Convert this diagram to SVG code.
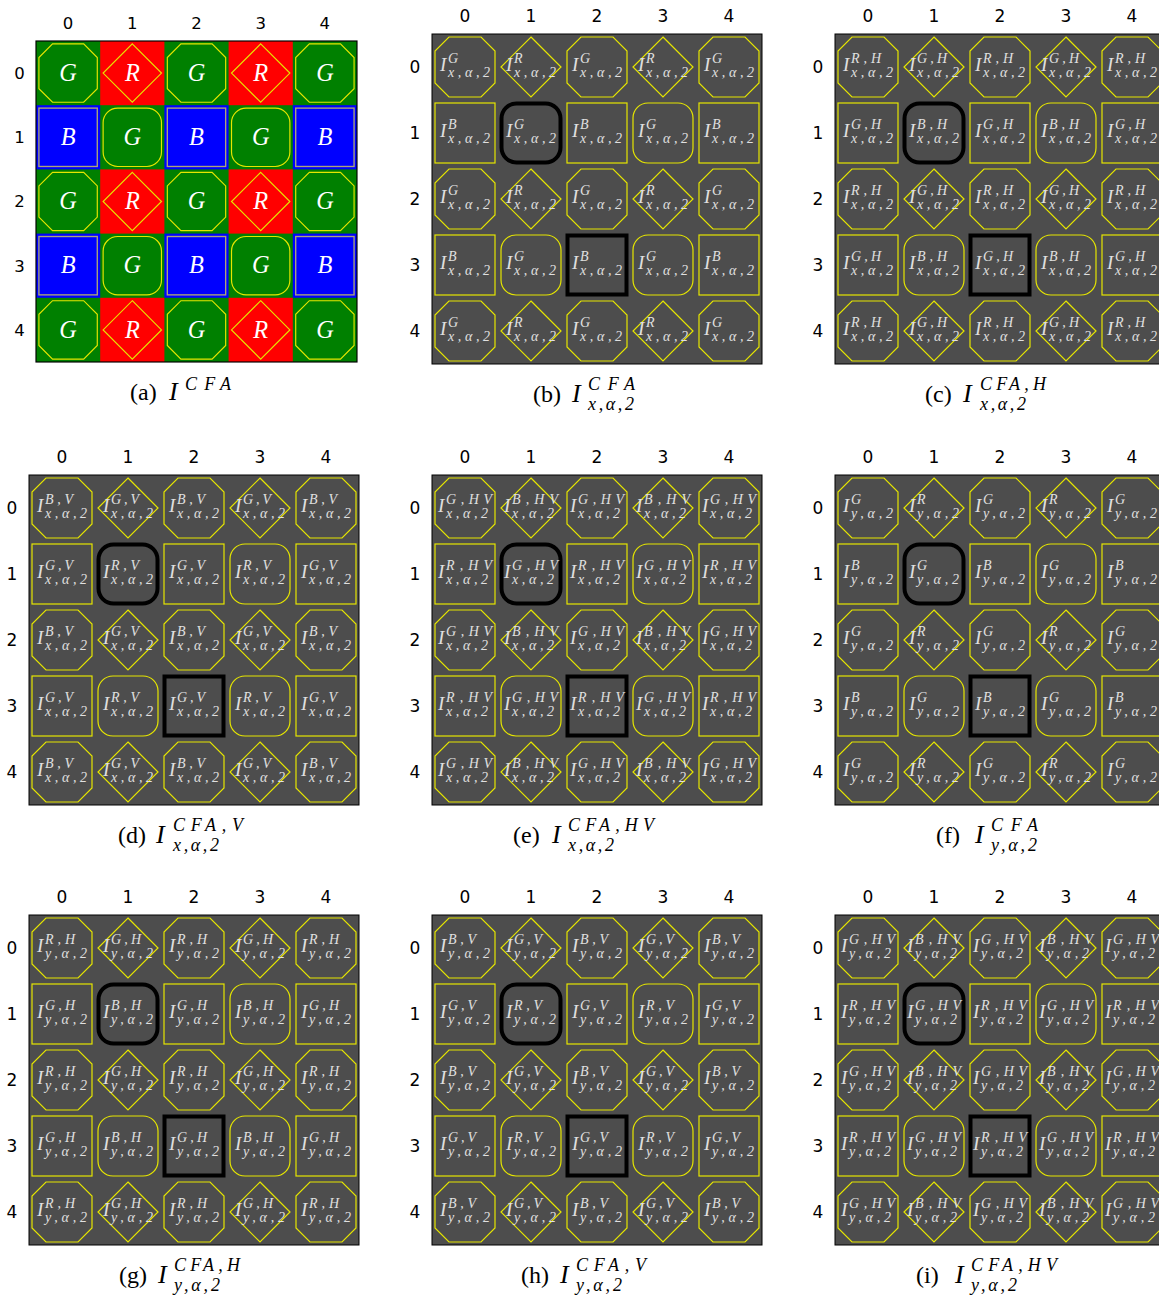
<svg xmlns="http://www.w3.org/2000/svg" xmlns:xlink="http://www.w3.org/1999/xlink" width="1159" height="1301" viewBox="0 0 1159 1301">
<style>
.hd{font:17px "DejaVu Sans",sans-serif;fill:#000;text-anchor:middle}
.m{font:italic 19px "Liberation Serif",serif;fill:#e0e0e0}
.s{font:italic 14px "Liberation Serif",serif;fill:#e0e0e0}
.w{font:italic 25px "Liberation Serif",serif;fill:#fff;text-anchor:middle}
.c{font:24px "Liberation Serif",serif;fill:#000}
.ci{font:italic 26px "Liberation Serif",serif;fill:#000}
.cs{font:italic 18px "Liberation Serif",serif;fill:#000}
</style>
<defs>
<polygon id="o" points="-16,-30 16,-30 30,-16 30,16 16,30 -16,30 -30,16 -30,-16" fill="none" stroke="#e6e600" stroke-width="1.2"/>
<polygon id="d" points="0,-30 30,0 0,30 -30,0" fill="none" stroke="#e6e600" stroke-width="1.2"/>
<rect id="q" x="-30" y="-30" width="60" height="60" fill="none" stroke="#e6e600" stroke-width="1.2"/>
<rect id="r" x="-30" y="-30" width="60" height="60" rx="15" fill="none" stroke="#e6e600" stroke-width="1.2"/>
<rect id="qa" x="-30" y="-30" width="60" height="60" fill="none" stroke="#aaa57a" stroke-width="1.4"/>
<rect id="rk" x="-29.5" y="-29.5" width="59" height="59" rx="15" fill="none" stroke="#000" stroke-width="4"/>
<rect id="qk" x="-29.5" y="-29.5" width="59" height="59" fill="none" stroke="#000" stroke-width="4"/>
</defs>

<!-- Panel a -->
<g id="panel-a" transform="translate(36,41) scale(0.9727)">
<rect width="330" height="330" fill="#008000"/>
<g class="hd">
<text x="33" y="-12">0</text><text x="99" y="-12">1</text><text x="165" y="-12">2</text><text x="231" y="-12">3</text><text x="297" y="-12">4</text>
<text x="-17" y="39">0</text><text x="-17" y="105">1</text><text x="-17" y="171">2</text><text x="-17" y="237">3</text><text x="-17" y="303">4</text>
</g>
<g id="a00" transform="translate(33,33)"><use href="#o"/><text class="w" y="8">G</text></g>
<g id="a01" transform="translate(99,33)"><rect x="-33" y="-33" width="66" height="66" fill="#f00"/><use href="#d"/><text class="w" y="8">R</text></g>
<g id="a02" transform="translate(165,33)"><use href="#o"/><text class="w" y="8">G</text></g>
<g id="a03" transform="translate(231,33)"><rect x="-33" y="-33" width="66" height="66" fill="#f00"/><use href="#d"/><text class="w" y="8">R</text></g>
<g id="a04" transform="translate(297,33)"><use href="#o"/><text class="w" y="8">G</text></g>
<g id="a10" transform="translate(33,99)"><rect x="-33" y="-33" width="66" height="66" fill="#00f"/><use href="#qa"/><text class="w" y="8">B</text></g>
<g id="a11" transform="translate(99,99)"><use href="#r"/><text class="w" y="8">G</text></g>
<g id="a12" transform="translate(165,99)"><rect x="-33" y="-33" width="66" height="66" fill="#00f"/><use href="#qa"/><text class="w" y="8">B</text></g>
<g id="a13" transform="translate(231,99)"><use href="#r"/><text class="w" y="8">G</text></g>
<g id="a14" transform="translate(297,99)"><rect x="-33" y="-33" width="66" height="66" fill="#00f"/><use href="#qa"/><text class="w" y="8">B</text></g>
<g id="a20" transform="translate(33,165)"><use href="#o"/><text class="w" y="8">G</text></g>
<g id="a21" transform="translate(99,165)"><rect x="-33" y="-33" width="66" height="66" fill="#f00"/><use href="#d"/><text class="w" y="8">R</text></g>
<g id="a22" transform="translate(165,165)"><use href="#o"/><text class="w" y="8">G</text></g>
<g id="a23" transform="translate(231,165)"><rect x="-33" y="-33" width="66" height="66" fill="#f00"/><use href="#d"/><text class="w" y="8">R</text></g>
<g id="a24" transform="translate(297,165)"><use href="#o"/><text class="w" y="8">G</text></g>
<g id="a30" transform="translate(33,231)"><rect x="-33" y="-33" width="66" height="66" fill="#00f"/><use href="#qa"/><text class="w" y="8">B</text></g>
<g id="a31" transform="translate(99,231)"><use href="#r"/><text class="w" y="8">G</text></g>
<g id="a32" transform="translate(165,231)"><rect x="-33" y="-33" width="66" height="66" fill="#00f"/><use href="#qa"/><text class="w" y="8">B</text></g>
<g id="a33" transform="translate(231,231)"><use href="#r"/><text class="w" y="8">G</text></g>
<g id="a34" transform="translate(297,231)"><rect x="-33" y="-33" width="66" height="66" fill="#00f"/><use href="#qa"/><text class="w" y="8">B</text></g>
<g id="a40" transform="translate(33,297)"><use href="#o"/><text class="w" y="8">G</text></g>
<g id="a41" transform="translate(99,297)"><rect x="-33" y="-33" width="66" height="66" fill="#f00"/><use href="#d"/><text class="w" y="8">R</text></g>
<g id="a42" transform="translate(165,297)"><use href="#o"/><text class="w" y="8">G</text></g>
<g id="a43" transform="translate(231,297)"><rect x="-33" y="-33" width="66" height="66" fill="#f00"/><use href="#d"/><text class="w" y="8">R</text></g>
<g id="a44" transform="translate(297,297)"><use href="#o"/><text class="w" y="8">G</text></g>
<rect width="330" height="330" fill="none" stroke="#000" stroke-width="1.2"/>
</g>
<g id="cap-a"><text class="c" x="130" y="400">(a)</text><text class="ci" x="169" y="400">I</text><text class="cs" x="185" y="390" textLength="46">CFA</text></g>

<!-- Panel b -->
<g id="panel-b" transform="translate(432,34)">
<rect width="330" height="330" fill="#4d4d4d" stroke="#000"/>
<g class="hd">
<text x="33" y="-12.5">0</text><text x="99" y="-12.5">1</text><text x="165" y="-12.5">2</text><text x="231" y="-12.5">3</text><text x="297" y="-12.5">4</text>
<text x="-17" y="39">0</text><text x="-17" y="105">1</text><text x="-17" y="171">2</text><text x="-17" y="237">3</text><text x="-17" y="303">4</text>
</g>
<g id="b00" transform="translate(33,33)"><use href="#o"/><text class="m" x="-25" y="4">I</text><text class="s" x="-17" y="-4">G</text><text class="s" x="-17" y="9.5" textLength="42">x,α,2</text></g>
<g id="b01" transform="translate(99,33)"><use href="#d"/><text class="m" x="-25" y="4">I</text><text class="s" x="-17" y="-4">R</text><text class="s" x="-17" y="9.5" textLength="42">x,α,2</text></g>
<g id="b02" transform="translate(165,33)"><use href="#o"/><text class="m" x="-25" y="4">I</text><text class="s" x="-17" y="-4">G</text><text class="s" x="-17" y="9.5" textLength="42">x,α,2</text></g>
<g id="b03" transform="translate(231,33)"><use href="#d"/><text class="m" x="-25" y="4">I</text><text class="s" x="-17" y="-4">R</text><text class="s" x="-17" y="9.5" textLength="42">x,α,2</text></g>
<g id="b04" transform="translate(297,33)"><use href="#o"/><text class="m" x="-25" y="4">I</text><text class="s" x="-17" y="-4">G</text><text class="s" x="-17" y="9.5" textLength="42">x,α,2</text></g>
<g id="b10" transform="translate(33,99)"><use href="#q"/><text class="m" x="-25" y="4">I</text><text class="s" x="-17" y="-4">B</text><text class="s" x="-17" y="9.5" textLength="42">x,α,2</text></g>
<g id="b11" transform="translate(99,99)"><use href="#rk"/><text class="m" x="-25" y="4">I</text><text class="s" x="-17" y="-4">G</text><text class="s" x="-17" y="9.5" textLength="42">x,α,2</text></g>
<g id="b12" transform="translate(165,99)"><use href="#q"/><text class="m" x="-25" y="4">I</text><text class="s" x="-17" y="-4">B</text><text class="s" x="-17" y="9.5" textLength="42">x,α,2</text></g>
<g id="b13" transform="translate(231,99)"><use href="#r"/><text class="m" x="-25" y="4">I</text><text class="s" x="-17" y="-4">G</text><text class="s" x="-17" y="9.5" textLength="42">x,α,2</text></g>
<g id="b14" transform="translate(297,99)"><use href="#q"/><text class="m" x="-25" y="4">I</text><text class="s" x="-17" y="-4">B</text><text class="s" x="-17" y="9.5" textLength="42">x,α,2</text></g>
<g id="b20" transform="translate(33,165)"><use href="#o"/><text class="m" x="-25" y="4">I</text><text class="s" x="-17" y="-4">G</text><text class="s" x="-17" y="9.5" textLength="42">x,α,2</text></g>
<g id="b21" transform="translate(99,165)"><use href="#d"/><text class="m" x="-25" y="4">I</text><text class="s" x="-17" y="-4">R</text><text class="s" x="-17" y="9.5" textLength="42">x,α,2</text></g>
<g id="b22" transform="translate(165,165)"><use href="#o"/><text class="m" x="-25" y="4">I</text><text class="s" x="-17" y="-4">G</text><text class="s" x="-17" y="9.5" textLength="42">x,α,2</text></g>
<g id="b23" transform="translate(231,165)"><use href="#d"/><text class="m" x="-25" y="4">I</text><text class="s" x="-17" y="-4">R</text><text class="s" x="-17" y="9.5" textLength="42">x,α,2</text></g>
<g id="b24" transform="translate(297,165)"><use href="#o"/><text class="m" x="-25" y="4">I</text><text class="s" x="-17" y="-4">G</text><text class="s" x="-17" y="9.5" textLength="42">x,α,2</text></g>
<g id="b30" transform="translate(33,231)"><use href="#q"/><text class="m" x="-25" y="4">I</text><text class="s" x="-17" y="-4">B</text><text class="s" x="-17" y="9.5" textLength="42">x,α,2</text></g>
<g id="b31" transform="translate(99,231)"><use href="#r"/><text class="m" x="-25" y="4">I</text><text class="s" x="-17" y="-4">G</text><text class="s" x="-17" y="9.5" textLength="42">x,α,2</text></g>
<g id="b32" transform="translate(165,231)"><use href="#qk"/><text class="m" x="-25" y="4">I</text><text class="s" x="-17" y="-4">B</text><text class="s" x="-17" y="9.5" textLength="42">x,α,2</text></g>
<g id="b33" transform="translate(231,231)"><use href="#r"/><text class="m" x="-25" y="4">I</text><text class="s" x="-17" y="-4">G</text><text class="s" x="-17" y="9.5" textLength="42">x,α,2</text></g>
<g id="b34" transform="translate(297,231)"><use href="#q"/><text class="m" x="-25" y="4">I</text><text class="s" x="-17" y="-4">B</text><text class="s" x="-17" y="9.5" textLength="42">x,α,2</text></g>
<g id="b40" transform="translate(33,297)"><use href="#o"/><text class="m" x="-25" y="4">I</text><text class="s" x="-17" y="-4">G</text><text class="s" x="-17" y="9.5" textLength="42">x,α,2</text></g>
<g id="b41" transform="translate(99,297)"><use href="#d"/><text class="m" x="-25" y="4">I</text><text class="s" x="-17" y="-4">R</text><text class="s" x="-17" y="9.5" textLength="42">x,α,2</text></g>
<g id="b42" transform="translate(165,297)"><use href="#o"/><text class="m" x="-25" y="4">I</text><text class="s" x="-17" y="-4">G</text><text class="s" x="-17" y="9.5" textLength="42">x,α,2</text></g>
<g id="b43" transform="translate(231,297)"><use href="#d"/><text class="m" x="-25" y="4">I</text><text class="s" x="-17" y="-4">R</text><text class="s" x="-17" y="9.5" textLength="42">x,α,2</text></g>
<g id="b44" transform="translate(297,297)"><use href="#o"/><text class="m" x="-25" y="4">I</text><text class="s" x="-17" y="-4">G</text><text class="s" x="-17" y="9.5" textLength="42">x,α,2</text></g>
</g>
<g id="cap-b"><text class="c" x="533" y="402">(b)</text><text class="ci" x="572" y="402">I</text><text class="cs" x="588" y="389.5" textLength="47">CFA</text><text class="cs" x="588" y="410" textLength="46">x,α,2</text></g>

<!-- Panel c -->
<g id="panel-c" transform="translate(835,34)">
<rect width="330" height="330" fill="#4d4d4d" stroke="#000"/>
<g class="hd">
<text x="33" y="-12.5">0</text><text x="99" y="-12.5">1</text><text x="165" y="-12.5">2</text><text x="231" y="-12.5">3</text><text x="297" y="-12.5">4</text>
<text x="-17" y="39">0</text><text x="-17" y="105">1</text><text x="-17" y="171">2</text><text x="-17" y="237">3</text><text x="-17" y="303">4</text>
</g>
<g id="c00" transform="translate(33,33)"><use href="#o"/><text class="m" x="-25" y="4">I</text><text class="s" x="-17" y="-4" textLength="30">R,H</text><text class="s" x="-17" y="9.5" textLength="42">x,α,2</text></g>
<g id="c01" transform="translate(99,33)"><use href="#d"/><text class="m" x="-25" y="4">I</text><text class="s" x="-17" y="-4" textLength="30">G,H</text><text class="s" x="-17" y="9.5" textLength="42">x,α,2</text></g>
<g id="c02" transform="translate(165,33)"><use href="#o"/><text class="m" x="-25" y="4">I</text><text class="s" x="-17" y="-4" textLength="30">R,H</text><text class="s" x="-17" y="9.5" textLength="42">x,α,2</text></g>
<g id="c03" transform="translate(231,33)"><use href="#d"/><text class="m" x="-25" y="4">I</text><text class="s" x="-17" y="-4" textLength="30">G,H</text><text class="s" x="-17" y="9.5" textLength="42">x,α,2</text></g>
<g id="c04" transform="translate(297,33)"><use href="#o"/><text class="m" x="-25" y="4">I</text><text class="s" x="-17" y="-4" textLength="30">R,H</text><text class="s" x="-17" y="9.5" textLength="42">x,α,2</text></g>
<g id="c10" transform="translate(33,99)"><use href="#q"/><text class="m" x="-25" y="4">I</text><text class="s" x="-17" y="-4" textLength="30">G,H</text><text class="s" x="-17" y="9.5" textLength="42">x,α,2</text></g>
<g id="c11" transform="translate(99,99)"><use href="#rk"/><text class="m" x="-25" y="4">I</text><text class="s" x="-17" y="-4" textLength="30">B,H</text><text class="s" x="-17" y="9.5" textLength="42">x,α,2</text></g>
<g id="c12" transform="translate(165,99)"><use href="#q"/><text class="m" x="-25" y="4">I</text><text class="s" x="-17" y="-4" textLength="30">G,H</text><text class="s" x="-17" y="9.5" textLength="42">x,α,2</text></g>
<g id="c13" transform="translate(231,99)"><use href="#r"/><text class="m" x="-25" y="4">I</text><text class="s" x="-17" y="-4" textLength="30">B,H</text><text class="s" x="-17" y="9.5" textLength="42">x,α,2</text></g>
<g id="c14" transform="translate(297,99)"><use href="#q"/><text class="m" x="-25" y="4">I</text><text class="s" x="-17" y="-4" textLength="30">G,H</text><text class="s" x="-17" y="9.5" textLength="42">x,α,2</text></g>
<g id="c20" transform="translate(33,165)"><use href="#o"/><text class="m" x="-25" y="4">I</text><text class="s" x="-17" y="-4" textLength="30">R,H</text><text class="s" x="-17" y="9.5" textLength="42">x,α,2</text></g>
<g id="c21" transform="translate(99,165)"><use href="#d"/><text class="m" x="-25" y="4">I</text><text class="s" x="-17" y="-4" textLength="30">G,H</text><text class="s" x="-17" y="9.5" textLength="42">x,α,2</text></g>
<g id="c22" transform="translate(165,165)"><use href="#o"/><text class="m" x="-25" y="4">I</text><text class="s" x="-17" y="-4" textLength="30">R,H</text><text class="s" x="-17" y="9.5" textLength="42">x,α,2</text></g>
<g id="c23" transform="translate(231,165)"><use href="#d"/><text class="m" x="-25" y="4">I</text><text class="s" x="-17" y="-4" textLength="30">G,H</text><text class="s" x="-17" y="9.5" textLength="42">x,α,2</text></g>
<g id="c24" transform="translate(297,165)"><use href="#o"/><text class="m" x="-25" y="4">I</text><text class="s" x="-17" y="-4" textLength="30">R,H</text><text class="s" x="-17" y="9.5" textLength="42">x,α,2</text></g>
<g id="c30" transform="translate(33,231)"><use href="#q"/><text class="m" x="-25" y="4">I</text><text class="s" x="-17" y="-4" textLength="30">G,H</text><text class="s" x="-17" y="9.5" textLength="42">x,α,2</text></g>
<g id="c31" transform="translate(99,231)"><use href="#r"/><text class="m" x="-25" y="4">I</text><text class="s" x="-17" y="-4" textLength="30">B,H</text><text class="s" x="-17" y="9.5" textLength="42">x,α,2</text></g>
<g id="c32" transform="translate(165,231)"><use href="#qk"/><text class="m" x="-25" y="4">I</text><text class="s" x="-17" y="-4" textLength="30">G,H</text><text class="s" x="-17" y="9.5" textLength="42">x,α,2</text></g>
<g id="c33" transform="translate(231,231)"><use href="#r"/><text class="m" x="-25" y="4">I</text><text class="s" x="-17" y="-4" textLength="30">B,H</text><text class="s" x="-17" y="9.5" textLength="42">x,α,2</text></g>
<g id="c34" transform="translate(297,231)"><use href="#q"/><text class="m" x="-25" y="4">I</text><text class="s" x="-17" y="-4" textLength="30">G,H</text><text class="s" x="-17" y="9.5" textLength="42">x,α,2</text></g>
<g id="c40" transform="translate(33,297)"><use href="#o"/><text class="m" x="-25" y="4">I</text><text class="s" x="-17" y="-4" textLength="30">R,H</text><text class="s" x="-17" y="9.5" textLength="42">x,α,2</text></g>
<g id="c41" transform="translate(99,297)"><use href="#d"/><text class="m" x="-25" y="4">I</text><text class="s" x="-17" y="-4" textLength="30">G,H</text><text class="s" x="-17" y="9.5" textLength="42">x,α,2</text></g>
<g id="c42" transform="translate(165,297)"><use href="#o"/><text class="m" x="-25" y="4">I</text><text class="s" x="-17" y="-4" textLength="30">R,H</text><text class="s" x="-17" y="9.5" textLength="42">x,α,2</text></g>
<g id="c43" transform="translate(231,297)"><use href="#d"/><text class="m" x="-25" y="4">I</text><text class="s" x="-17" y="-4" textLength="30">G,H</text><text class="s" x="-17" y="9.5" textLength="42">x,α,2</text></g>
<g id="c44" transform="translate(297,297)"><use href="#o"/><text class="m" x="-25" y="4">I</text><text class="s" x="-17" y="-4" textLength="30">R,H</text><text class="s" x="-17" y="9.5" textLength="42">x,α,2</text></g>
</g>
<g id="cap-c"><text class="c" x="925" y="402">(c)</text><text class="ci" x="963" y="402">I</text><text class="cs" x="980" y="389.5" textLength="66">CFA,H</text><text class="cs" x="980" y="410" textLength="46">x,α,2</text></g>

<!-- Panel d -->
<g id="panel-d" transform="translate(29,475)">
<rect width="330" height="330" fill="#4d4d4d" stroke="#000"/>
<g class="hd">
<text x="33" y="-12.5">0</text><text x="99" y="-12.5">1</text><text x="165" y="-12.5">2</text><text x="231" y="-12.5">3</text><text x="297" y="-12.5">4</text>
<text x="-17" y="39">0</text><text x="-17" y="105">1</text><text x="-17" y="171">2</text><text x="-17" y="237">3</text><text x="-17" y="303">4</text>
</g>
<g id="d00" transform="translate(33,33)"><use href="#o"/><text class="m" x="-25" y="4">I</text><text class="s" x="-17" y="-4" textLength="28">B,V</text><text class="s" x="-17" y="9.5" textLength="42">x,α,2</text></g>
<g id="d01" transform="translate(99,33)"><use href="#d"/><text class="m" x="-25" y="4">I</text><text class="s" x="-17" y="-4" textLength="28">G,V</text><text class="s" x="-17" y="9.5" textLength="42">x,α,2</text></g>
<g id="d02" transform="translate(165,33)"><use href="#o"/><text class="m" x="-25" y="4">I</text><text class="s" x="-17" y="-4" textLength="28">B,V</text><text class="s" x="-17" y="9.5" textLength="42">x,α,2</text></g>
<g id="d03" transform="translate(231,33)"><use href="#d"/><text class="m" x="-25" y="4">I</text><text class="s" x="-17" y="-4" textLength="28">G,V</text><text class="s" x="-17" y="9.5" textLength="42">x,α,2</text></g>
<g id="d04" transform="translate(297,33)"><use href="#o"/><text class="m" x="-25" y="4">I</text><text class="s" x="-17" y="-4" textLength="28">B,V</text><text class="s" x="-17" y="9.5" textLength="42">x,α,2</text></g>
<g id="d10" transform="translate(33,99)"><use href="#q"/><text class="m" x="-25" y="4">I</text><text class="s" x="-17" y="-4" textLength="28">G,V</text><text class="s" x="-17" y="9.5" textLength="42">x,α,2</text></g>
<g id="d11" transform="translate(99,99)"><use href="#rk"/><text class="m" x="-25" y="4">I</text><text class="s" x="-17" y="-4" textLength="28">R,V</text><text class="s" x="-17" y="9.5" textLength="42">x,α,2</text></g>
<g id="d12" transform="translate(165,99)"><use href="#q"/><text class="m" x="-25" y="4">I</text><text class="s" x="-17" y="-4" textLength="28">G,V</text><text class="s" x="-17" y="9.5" textLength="42">x,α,2</text></g>
<g id="d13" transform="translate(231,99)"><use href="#r"/><text class="m" x="-25" y="4">I</text><text class="s" x="-17" y="-4" textLength="28">R,V</text><text class="s" x="-17" y="9.5" textLength="42">x,α,2</text></g>
<g id="d14" transform="translate(297,99)"><use href="#q"/><text class="m" x="-25" y="4">I</text><text class="s" x="-17" y="-4" textLength="28">G,V</text><text class="s" x="-17" y="9.5" textLength="42">x,α,2</text></g>
<g id="d20" transform="translate(33,165)"><use href="#o"/><text class="m" x="-25" y="4">I</text><text class="s" x="-17" y="-4" textLength="28">B,V</text><text class="s" x="-17" y="9.5" textLength="42">x,α,2</text></g>
<g id="d21" transform="translate(99,165)"><use href="#d"/><text class="m" x="-25" y="4">I</text><text class="s" x="-17" y="-4" textLength="28">G,V</text><text class="s" x="-17" y="9.5" textLength="42">x,α,2</text></g>
<g id="d22" transform="translate(165,165)"><use href="#o"/><text class="m" x="-25" y="4">I</text><text class="s" x="-17" y="-4" textLength="28">B,V</text><text class="s" x="-17" y="9.5" textLength="42">x,α,2</text></g>
<g id="d23" transform="translate(231,165)"><use href="#d"/><text class="m" x="-25" y="4">I</text><text class="s" x="-17" y="-4" textLength="28">G,V</text><text class="s" x="-17" y="9.5" textLength="42">x,α,2</text></g>
<g id="d24" transform="translate(297,165)"><use href="#o"/><text class="m" x="-25" y="4">I</text><text class="s" x="-17" y="-4" textLength="28">B,V</text><text class="s" x="-17" y="9.5" textLength="42">x,α,2</text></g>
<g id="d30" transform="translate(33,231)"><use href="#q"/><text class="m" x="-25" y="4">I</text><text class="s" x="-17" y="-4" textLength="28">G,V</text><text class="s" x="-17" y="9.5" textLength="42">x,α,2</text></g>
<g id="d31" transform="translate(99,231)"><use href="#r"/><text class="m" x="-25" y="4">I</text><text class="s" x="-17" y="-4" textLength="28">R,V</text><text class="s" x="-17" y="9.5" textLength="42">x,α,2</text></g>
<g id="d32" transform="translate(165,231)"><use href="#qk"/><text class="m" x="-25" y="4">I</text><text class="s" x="-17" y="-4" textLength="28">G,V</text><text class="s" x="-17" y="9.5" textLength="42">x,α,2</text></g>
<g id="d33" transform="translate(231,231)"><use href="#r"/><text class="m" x="-25" y="4">I</text><text class="s" x="-17" y="-4" textLength="28">R,V</text><text class="s" x="-17" y="9.5" textLength="42">x,α,2</text></g>
<g id="d34" transform="translate(297,231)"><use href="#q"/><text class="m" x="-25" y="4">I</text><text class="s" x="-17" y="-4" textLength="28">G,V</text><text class="s" x="-17" y="9.5" textLength="42">x,α,2</text></g>
<g id="d40" transform="translate(33,297)"><use href="#o"/><text class="m" x="-25" y="4">I</text><text class="s" x="-17" y="-4" textLength="28">B,V</text><text class="s" x="-17" y="9.5" textLength="42">x,α,2</text></g>
<g id="d41" transform="translate(99,297)"><use href="#d"/><text class="m" x="-25" y="4">I</text><text class="s" x="-17" y="-4" textLength="28">G,V</text><text class="s" x="-17" y="9.5" textLength="42">x,α,2</text></g>
<g id="d42" transform="translate(165,297)"><use href="#o"/><text class="m" x="-25" y="4">I</text><text class="s" x="-17" y="-4" textLength="28">B,V</text><text class="s" x="-17" y="9.5" textLength="42">x,α,2</text></g>
<g id="d43" transform="translate(231,297)"><use href="#d"/><text class="m" x="-25" y="4">I</text><text class="s" x="-17" y="-4" textLength="28">G,V</text><text class="s" x="-17" y="9.5" textLength="42">x,α,2</text></g>
<g id="d44" transform="translate(297,297)"><use href="#o"/><text class="m" x="-25" y="4">I</text><text class="s" x="-17" y="-4" textLength="28">B,V</text><text class="s" x="-17" y="9.5" textLength="42">x,α,2</text></g>
</g>
<g id="cap-d"><text class="c" x="118" y="843">(d)</text><text class="ci" x="156" y="843">I</text><text class="cs" x="173" y="830.5" textLength="70">CFA,V</text><text class="cs" x="173" y="851" textLength="46">x,α,2</text></g>

<!-- Panel e -->
<g id="panel-e" transform="translate(432,475)">
<rect width="330" height="330" fill="#4d4d4d" stroke="#000"/>
<g class="hd">
<text x="33" y="-12.5">0</text><text x="99" y="-12.5">1</text><text x="165" y="-12.5">2</text><text x="231" y="-12.5">3</text><text x="297" y="-12.5">4</text>
<text x="-17" y="39">0</text><text x="-17" y="105">1</text><text x="-17" y="171">2</text><text x="-17" y="237">3</text><text x="-17" y="303">4</text>
</g>
<g id="e00" transform="translate(33,33)"><use href="#o"/><text class="m" x="-27" y="4">I</text><text class="s" x="-19" y="-4" textLength="46">G,HV</text><text class="s" x="-19" y="9.5" textLength="42">x,α,2</text></g>
<g id="e01" transform="translate(99,33)"><use href="#d"/><text class="m" x="-27" y="4">I</text><text class="s" x="-19" y="-4" textLength="46">B,HV</text><text class="s" x="-19" y="9.5" textLength="42">x,α,2</text></g>
<g id="e02" transform="translate(165,33)"><use href="#o"/><text class="m" x="-27" y="4">I</text><text class="s" x="-19" y="-4" textLength="46">G,HV</text><text class="s" x="-19" y="9.5" textLength="42">x,α,2</text></g>
<g id="e03" transform="translate(231,33)"><use href="#d"/><text class="m" x="-27" y="4">I</text><text class="s" x="-19" y="-4" textLength="46">B,HV</text><text class="s" x="-19" y="9.5" textLength="42">x,α,2</text></g>
<g id="e04" transform="translate(297,33)"><use href="#o"/><text class="m" x="-27" y="4">I</text><text class="s" x="-19" y="-4" textLength="46">G,HV</text><text class="s" x="-19" y="9.5" textLength="42">x,α,2</text></g>
<g id="e10" transform="translate(33,99)"><use href="#q"/><text class="m" x="-27" y="4">I</text><text class="s" x="-19" y="-4" textLength="46">R,HV</text><text class="s" x="-19" y="9.5" textLength="42">x,α,2</text></g>
<g id="e11" transform="translate(99,99)"><use href="#rk"/><text class="m" x="-27" y="4">I</text><text class="s" x="-19" y="-4" textLength="46">G,HV</text><text class="s" x="-19" y="9.5" textLength="42">x,α,2</text></g>
<g id="e12" transform="translate(165,99)"><use href="#q"/><text class="m" x="-27" y="4">I</text><text class="s" x="-19" y="-4" textLength="46">R,HV</text><text class="s" x="-19" y="9.5" textLength="42">x,α,2</text></g>
<g id="e13" transform="translate(231,99)"><use href="#r"/><text class="m" x="-27" y="4">I</text><text class="s" x="-19" y="-4" textLength="46">G,HV</text><text class="s" x="-19" y="9.5" textLength="42">x,α,2</text></g>
<g id="e14" transform="translate(297,99)"><use href="#q"/><text class="m" x="-27" y="4">I</text><text class="s" x="-19" y="-4" textLength="46">R,HV</text><text class="s" x="-19" y="9.5" textLength="42">x,α,2</text></g>
<g id="e20" transform="translate(33,165)"><use href="#o"/><text class="m" x="-27" y="4">I</text><text class="s" x="-19" y="-4" textLength="46">G,HV</text><text class="s" x="-19" y="9.5" textLength="42">x,α,2</text></g>
<g id="e21" transform="translate(99,165)"><use href="#d"/><text class="m" x="-27" y="4">I</text><text class="s" x="-19" y="-4" textLength="46">B,HV</text><text class="s" x="-19" y="9.5" textLength="42">x,α,2</text></g>
<g id="e22" transform="translate(165,165)"><use href="#o"/><text class="m" x="-27" y="4">I</text><text class="s" x="-19" y="-4" textLength="46">G,HV</text><text class="s" x="-19" y="9.5" textLength="42">x,α,2</text></g>
<g id="e23" transform="translate(231,165)"><use href="#d"/><text class="m" x="-27" y="4">I</text><text class="s" x="-19" y="-4" textLength="46">B,HV</text><text class="s" x="-19" y="9.5" textLength="42">x,α,2</text></g>
<g id="e24" transform="translate(297,165)"><use href="#o"/><text class="m" x="-27" y="4">I</text><text class="s" x="-19" y="-4" textLength="46">G,HV</text><text class="s" x="-19" y="9.5" textLength="42">x,α,2</text></g>
<g id="e30" transform="translate(33,231)"><use href="#q"/><text class="m" x="-27" y="4">I</text><text class="s" x="-19" y="-4" textLength="46">R,HV</text><text class="s" x="-19" y="9.5" textLength="42">x,α,2</text></g>
<g id="e31" transform="translate(99,231)"><use href="#r"/><text class="m" x="-27" y="4">I</text><text class="s" x="-19" y="-4" textLength="46">G,HV</text><text class="s" x="-19" y="9.5" textLength="42">x,α,2</text></g>
<g id="e32" transform="translate(165,231)"><use href="#qk"/><text class="m" x="-27" y="4">I</text><text class="s" x="-19" y="-4" textLength="46">R,HV</text><text class="s" x="-19" y="9.5" textLength="42">x,α,2</text></g>
<g id="e33" transform="translate(231,231)"><use href="#r"/><text class="m" x="-27" y="4">I</text><text class="s" x="-19" y="-4" textLength="46">G,HV</text><text class="s" x="-19" y="9.5" textLength="42">x,α,2</text></g>
<g id="e34" transform="translate(297,231)"><use href="#q"/><text class="m" x="-27" y="4">I</text><text class="s" x="-19" y="-4" textLength="46">R,HV</text><text class="s" x="-19" y="9.5" textLength="42">x,α,2</text></g>
<g id="e40" transform="translate(33,297)"><use href="#o"/><text class="m" x="-27" y="4">I</text><text class="s" x="-19" y="-4" textLength="46">G,HV</text><text class="s" x="-19" y="9.5" textLength="42">x,α,2</text></g>
<g id="e41" transform="translate(99,297)"><use href="#d"/><text class="m" x="-27" y="4">I</text><text class="s" x="-19" y="-4" textLength="46">B,HV</text><text class="s" x="-19" y="9.5" textLength="42">x,α,2</text></g>
<g id="e42" transform="translate(165,297)"><use href="#o"/><text class="m" x="-27" y="4">I</text><text class="s" x="-19" y="-4" textLength="46">G,HV</text><text class="s" x="-19" y="9.5" textLength="42">x,α,2</text></g>
<g id="e43" transform="translate(231,297)"><use href="#d"/><text class="m" x="-27" y="4">I</text><text class="s" x="-19" y="-4" textLength="46">B,HV</text><text class="s" x="-19" y="9.5" textLength="42">x,α,2</text></g>
<g id="e44" transform="translate(297,297)"><use href="#o"/><text class="m" x="-27" y="4">I</text><text class="s" x="-19" y="-4" textLength="46">G,HV</text><text class="s" x="-19" y="9.5" textLength="42">x,α,2</text></g>
</g>
<g id="cap-e"><text class="c" x="513" y="843">(e)</text><text class="ci" x="552" y="843">I</text><text class="cs" x="568" y="830.5" textLength="86">CFA,HV</text><text class="cs" x="568" y="851" textLength="46">x,α,2</text></g>

<!-- Panel f -->
<g id="panel-f" transform="translate(835,475)">
<rect width="330" height="330" fill="#4d4d4d" stroke="#000"/>
<g class="hd">
<text x="33" y="-12.5">0</text><text x="99" y="-12.5">1</text><text x="165" y="-12.5">2</text><text x="231" y="-12.5">3</text><text x="297" y="-12.5">4</text>
<text x="-17" y="39">0</text><text x="-17" y="105">1</text><text x="-17" y="171">2</text><text x="-17" y="237">3</text><text x="-17" y="303">4</text>
</g>
<g id="f00" transform="translate(33,33)"><use href="#o"/><text class="m" x="-25" y="4">I</text><text class="s" x="-17" y="-4">G</text><text class="s" x="-17" y="9.5" textLength="42">y,α,2</text></g>
<g id="f01" transform="translate(99,33)"><use href="#d"/><text class="m" x="-25" y="4">I</text><text class="s" x="-17" y="-4">R</text><text class="s" x="-17" y="9.5" textLength="42">y,α,2</text></g>
<g id="f02" transform="translate(165,33)"><use href="#o"/><text class="m" x="-25" y="4">I</text><text class="s" x="-17" y="-4">G</text><text class="s" x="-17" y="9.5" textLength="42">y,α,2</text></g>
<g id="f03" transform="translate(231,33)"><use href="#d"/><text class="m" x="-25" y="4">I</text><text class="s" x="-17" y="-4">R</text><text class="s" x="-17" y="9.5" textLength="42">y,α,2</text></g>
<g id="f04" transform="translate(297,33)"><use href="#o"/><text class="m" x="-25" y="4">I</text><text class="s" x="-17" y="-4">G</text><text class="s" x="-17" y="9.5" textLength="42">y,α,2</text></g>
<g id="f10" transform="translate(33,99)"><use href="#q"/><text class="m" x="-25" y="4">I</text><text class="s" x="-17" y="-4">B</text><text class="s" x="-17" y="9.5" textLength="42">y,α,2</text></g>
<g id="f11" transform="translate(99,99)"><use href="#rk"/><text class="m" x="-25" y="4">I</text><text class="s" x="-17" y="-4">G</text><text class="s" x="-17" y="9.5" textLength="42">y,α,2</text></g>
<g id="f12" transform="translate(165,99)"><use href="#q"/><text class="m" x="-25" y="4">I</text><text class="s" x="-17" y="-4">B</text><text class="s" x="-17" y="9.5" textLength="42">y,α,2</text></g>
<g id="f13" transform="translate(231,99)"><use href="#r"/><text class="m" x="-25" y="4">I</text><text class="s" x="-17" y="-4">G</text><text class="s" x="-17" y="9.5" textLength="42">y,α,2</text></g>
<g id="f14" transform="translate(297,99)"><use href="#q"/><text class="m" x="-25" y="4">I</text><text class="s" x="-17" y="-4">B</text><text class="s" x="-17" y="9.5" textLength="42">y,α,2</text></g>
<g id="f20" transform="translate(33,165)"><use href="#o"/><text class="m" x="-25" y="4">I</text><text class="s" x="-17" y="-4">G</text><text class="s" x="-17" y="9.5" textLength="42">y,α,2</text></g>
<g id="f21" transform="translate(99,165)"><use href="#d"/><text class="m" x="-25" y="4">I</text><text class="s" x="-17" y="-4">R</text><text class="s" x="-17" y="9.5" textLength="42">y,α,2</text></g>
<g id="f22" transform="translate(165,165)"><use href="#o"/><text class="m" x="-25" y="4">I</text><text class="s" x="-17" y="-4">G</text><text class="s" x="-17" y="9.5" textLength="42">y,α,2</text></g>
<g id="f23" transform="translate(231,165)"><use href="#d"/><text class="m" x="-25" y="4">I</text><text class="s" x="-17" y="-4">R</text><text class="s" x="-17" y="9.5" textLength="42">y,α,2</text></g>
<g id="f24" transform="translate(297,165)"><use href="#o"/><text class="m" x="-25" y="4">I</text><text class="s" x="-17" y="-4">G</text><text class="s" x="-17" y="9.5" textLength="42">y,α,2</text></g>
<g id="f30" transform="translate(33,231)"><use href="#q"/><text class="m" x="-25" y="4">I</text><text class="s" x="-17" y="-4">B</text><text class="s" x="-17" y="9.5" textLength="42">y,α,2</text></g>
<g id="f31" transform="translate(99,231)"><use href="#r"/><text class="m" x="-25" y="4">I</text><text class="s" x="-17" y="-4">G</text><text class="s" x="-17" y="9.5" textLength="42">y,α,2</text></g>
<g id="f32" transform="translate(165,231)"><use href="#qk"/><text class="m" x="-25" y="4">I</text><text class="s" x="-17" y="-4">B</text><text class="s" x="-17" y="9.5" textLength="42">y,α,2</text></g>
<g id="f33" transform="translate(231,231)"><use href="#r"/><text class="m" x="-25" y="4">I</text><text class="s" x="-17" y="-4">G</text><text class="s" x="-17" y="9.5" textLength="42">y,α,2</text></g>
<g id="f34" transform="translate(297,231)"><use href="#q"/><text class="m" x="-25" y="4">I</text><text class="s" x="-17" y="-4">B</text><text class="s" x="-17" y="9.5" textLength="42">y,α,2</text></g>
<g id="f40" transform="translate(33,297)"><use href="#o"/><text class="m" x="-25" y="4">I</text><text class="s" x="-17" y="-4">G</text><text class="s" x="-17" y="9.5" textLength="42">y,α,2</text></g>
<g id="f41" transform="translate(99,297)"><use href="#d"/><text class="m" x="-25" y="4">I</text><text class="s" x="-17" y="-4">R</text><text class="s" x="-17" y="9.5" textLength="42">y,α,2</text></g>
<g id="f42" transform="translate(165,297)"><use href="#o"/><text class="m" x="-25" y="4">I</text><text class="s" x="-17" y="-4">G</text><text class="s" x="-17" y="9.5" textLength="42">y,α,2</text></g>
<g id="f43" transform="translate(231,297)"><use href="#d"/><text class="m" x="-25" y="4">I</text><text class="s" x="-17" y="-4">R</text><text class="s" x="-17" y="9.5" textLength="42">y,α,2</text></g>
<g id="f44" transform="translate(297,297)"><use href="#o"/><text class="m" x="-25" y="4">I</text><text class="s" x="-17" y="-4">G</text><text class="s" x="-17" y="9.5" textLength="42">y,α,2</text></g>
</g>
<g id="cap-f"><text class="c" x="936" y="843">(f)</text><text class="ci" x="975" y="843">I</text><text class="cs" x="991" y="830.5" textLength="47">CFA</text><text class="cs" x="991" y="851" textLength="46">y,α,2</text></g>

<!-- Panel g -->
<g id="panel-g" transform="translate(29,915)">
<rect width="330" height="330" fill="#4d4d4d" stroke="#000"/>
<g class="hd">
<text x="33" y="-12.5">0</text><text x="99" y="-12.5">1</text><text x="165" y="-12.5">2</text><text x="231" y="-12.5">3</text><text x="297" y="-12.5">4</text>
<text x="-17" y="39">0</text><text x="-17" y="105">1</text><text x="-17" y="171">2</text><text x="-17" y="237">3</text><text x="-17" y="303">4</text>
</g>
<g id="g00" transform="translate(33,33)"><use href="#o"/><text class="m" x="-25" y="4">I</text><text class="s" x="-17" y="-4" textLength="30">R,H</text><text class="s" x="-17" y="9.5" textLength="42">y,α,2</text></g>
<g id="g01" transform="translate(99,33)"><use href="#d"/><text class="m" x="-25" y="4">I</text><text class="s" x="-17" y="-4" textLength="30">G,H</text><text class="s" x="-17" y="9.5" textLength="42">y,α,2</text></g>
<g id="g02" transform="translate(165,33)"><use href="#o"/><text class="m" x="-25" y="4">I</text><text class="s" x="-17" y="-4" textLength="30">R,H</text><text class="s" x="-17" y="9.5" textLength="42">y,α,2</text></g>
<g id="g03" transform="translate(231,33)"><use href="#d"/><text class="m" x="-25" y="4">I</text><text class="s" x="-17" y="-4" textLength="30">G,H</text><text class="s" x="-17" y="9.5" textLength="42">y,α,2</text></g>
<g id="g04" transform="translate(297,33)"><use href="#o"/><text class="m" x="-25" y="4">I</text><text class="s" x="-17" y="-4" textLength="30">R,H</text><text class="s" x="-17" y="9.5" textLength="42">y,α,2</text></g>
<g id="g10" transform="translate(33,99)"><use href="#q"/><text class="m" x="-25" y="4">I</text><text class="s" x="-17" y="-4" textLength="30">G,H</text><text class="s" x="-17" y="9.5" textLength="42">y,α,2</text></g>
<g id="g11" transform="translate(99,99)"><use href="#rk"/><text class="m" x="-25" y="4">I</text><text class="s" x="-17" y="-4" textLength="30">B,H</text><text class="s" x="-17" y="9.5" textLength="42">y,α,2</text></g>
<g id="g12" transform="translate(165,99)"><use href="#q"/><text class="m" x="-25" y="4">I</text><text class="s" x="-17" y="-4" textLength="30">G,H</text><text class="s" x="-17" y="9.5" textLength="42">y,α,2</text></g>
<g id="g13" transform="translate(231,99)"><use href="#r"/><text class="m" x="-25" y="4">I</text><text class="s" x="-17" y="-4" textLength="30">B,H</text><text class="s" x="-17" y="9.5" textLength="42">y,α,2</text></g>
<g id="g14" transform="translate(297,99)"><use href="#q"/><text class="m" x="-25" y="4">I</text><text class="s" x="-17" y="-4" textLength="30">G,H</text><text class="s" x="-17" y="9.5" textLength="42">y,α,2</text></g>
<g id="g20" transform="translate(33,165)"><use href="#o"/><text class="m" x="-25" y="4">I</text><text class="s" x="-17" y="-4" textLength="30">R,H</text><text class="s" x="-17" y="9.5" textLength="42">y,α,2</text></g>
<g id="g21" transform="translate(99,165)"><use href="#d"/><text class="m" x="-25" y="4">I</text><text class="s" x="-17" y="-4" textLength="30">G,H</text><text class="s" x="-17" y="9.5" textLength="42">y,α,2</text></g>
<g id="g22" transform="translate(165,165)"><use href="#o"/><text class="m" x="-25" y="4">I</text><text class="s" x="-17" y="-4" textLength="30">R,H</text><text class="s" x="-17" y="9.5" textLength="42">y,α,2</text></g>
<g id="g23" transform="translate(231,165)"><use href="#d"/><text class="m" x="-25" y="4">I</text><text class="s" x="-17" y="-4" textLength="30">G,H</text><text class="s" x="-17" y="9.5" textLength="42">y,α,2</text></g>
<g id="g24" transform="translate(297,165)"><use href="#o"/><text class="m" x="-25" y="4">I</text><text class="s" x="-17" y="-4" textLength="30">R,H</text><text class="s" x="-17" y="9.5" textLength="42">y,α,2</text></g>
<g id="g30" transform="translate(33,231)"><use href="#q"/><text class="m" x="-25" y="4">I</text><text class="s" x="-17" y="-4" textLength="30">G,H</text><text class="s" x="-17" y="9.5" textLength="42">y,α,2</text></g>
<g id="g31" transform="translate(99,231)"><use href="#r"/><text class="m" x="-25" y="4">I</text><text class="s" x="-17" y="-4" textLength="30">B,H</text><text class="s" x="-17" y="9.5" textLength="42">y,α,2</text></g>
<g id="g32" transform="translate(165,231)"><use href="#qk"/><text class="m" x="-25" y="4">I</text><text class="s" x="-17" y="-4" textLength="30">G,H</text><text class="s" x="-17" y="9.5" textLength="42">y,α,2</text></g>
<g id="g33" transform="translate(231,231)"><use href="#r"/><text class="m" x="-25" y="4">I</text><text class="s" x="-17" y="-4" textLength="30">B,H</text><text class="s" x="-17" y="9.5" textLength="42">y,α,2</text></g>
<g id="g34" transform="translate(297,231)"><use href="#q"/><text class="m" x="-25" y="4">I</text><text class="s" x="-17" y="-4" textLength="30">G,H</text><text class="s" x="-17" y="9.5" textLength="42">y,α,2</text></g>
<g id="g40" transform="translate(33,297)"><use href="#o"/><text class="m" x="-25" y="4">I</text><text class="s" x="-17" y="-4" textLength="30">R,H</text><text class="s" x="-17" y="9.5" textLength="42">y,α,2</text></g>
<g id="g41" transform="translate(99,297)"><use href="#d"/><text class="m" x="-25" y="4">I</text><text class="s" x="-17" y="-4" textLength="30">G,H</text><text class="s" x="-17" y="9.5" textLength="42">y,α,2</text></g>
<g id="g42" transform="translate(165,297)"><use href="#o"/><text class="m" x="-25" y="4">I</text><text class="s" x="-17" y="-4" textLength="30">R,H</text><text class="s" x="-17" y="9.5" textLength="42">y,α,2</text></g>
<g id="g43" transform="translate(231,297)"><use href="#d"/><text class="m" x="-25" y="4">I</text><text class="s" x="-17" y="-4" textLength="30">G,H</text><text class="s" x="-17" y="9.5" textLength="42">y,α,2</text></g>
<g id="g44" transform="translate(297,297)"><use href="#o"/><text class="m" x="-25" y="4">I</text><text class="s" x="-17" y="-4" textLength="30">R,H</text><text class="s" x="-17" y="9.5" textLength="42">y,α,2</text></g>
</g>
<g id="cap-g"><text class="c" x="119" y="1283">(g)</text><text class="ci" x="158" y="1283">I</text><text class="cs" x="174" y="1270.5" textLength="66">CFA,H</text><text class="cs" x="174" y="1291" textLength="46">y,α,2</text></g>

<!-- Panel h -->
<g id="panel-h" transform="translate(432,915)">
<rect width="330" height="330" fill="#4d4d4d" stroke="#000"/>
<g class="hd">
<text x="33" y="-12.5">0</text><text x="99" y="-12.5">1</text><text x="165" y="-12.5">2</text><text x="231" y="-12.5">3</text><text x="297" y="-12.5">4</text>
<text x="-17" y="39">0</text><text x="-17" y="105">1</text><text x="-17" y="171">2</text><text x="-17" y="237">3</text><text x="-17" y="303">4</text>
</g>
<g id="h00" transform="translate(33,33)"><use href="#o"/><text class="m" x="-25" y="4">I</text><text class="s" x="-17" y="-4" textLength="28">B,V</text><text class="s" x="-17" y="9.5" textLength="42">y,α,2</text></g>
<g id="h01" transform="translate(99,33)"><use href="#d"/><text class="m" x="-25" y="4">I</text><text class="s" x="-17" y="-4" textLength="28">G,V</text><text class="s" x="-17" y="9.5" textLength="42">y,α,2</text></g>
<g id="h02" transform="translate(165,33)"><use href="#o"/><text class="m" x="-25" y="4">I</text><text class="s" x="-17" y="-4" textLength="28">B,V</text><text class="s" x="-17" y="9.5" textLength="42">y,α,2</text></g>
<g id="h03" transform="translate(231,33)"><use href="#d"/><text class="m" x="-25" y="4">I</text><text class="s" x="-17" y="-4" textLength="28">G,V</text><text class="s" x="-17" y="9.5" textLength="42">y,α,2</text></g>
<g id="h04" transform="translate(297,33)"><use href="#o"/><text class="m" x="-25" y="4">I</text><text class="s" x="-17" y="-4" textLength="28">B,V</text><text class="s" x="-17" y="9.5" textLength="42">y,α,2</text></g>
<g id="h10" transform="translate(33,99)"><use href="#q"/><text class="m" x="-25" y="4">I</text><text class="s" x="-17" y="-4" textLength="28">G,V</text><text class="s" x="-17" y="9.5" textLength="42">y,α,2</text></g>
<g id="h11" transform="translate(99,99)"><use href="#rk"/><text class="m" x="-25" y="4">I</text><text class="s" x="-17" y="-4" textLength="28">R,V</text><text class="s" x="-17" y="9.5" textLength="42">y,α,2</text></g>
<g id="h12" transform="translate(165,99)"><use href="#q"/><text class="m" x="-25" y="4">I</text><text class="s" x="-17" y="-4" textLength="28">G,V</text><text class="s" x="-17" y="9.5" textLength="42">y,α,2</text></g>
<g id="h13" transform="translate(231,99)"><use href="#r"/><text class="m" x="-25" y="4">I</text><text class="s" x="-17" y="-4" textLength="28">R,V</text><text class="s" x="-17" y="9.5" textLength="42">y,α,2</text></g>
<g id="h14" transform="translate(297,99)"><use href="#q"/><text class="m" x="-25" y="4">I</text><text class="s" x="-17" y="-4" textLength="28">G,V</text><text class="s" x="-17" y="9.5" textLength="42">y,α,2</text></g>
<g id="h20" transform="translate(33,165)"><use href="#o"/><text class="m" x="-25" y="4">I</text><text class="s" x="-17" y="-4" textLength="28">B,V</text><text class="s" x="-17" y="9.5" textLength="42">y,α,2</text></g>
<g id="h21" transform="translate(99,165)"><use href="#d"/><text class="m" x="-25" y="4">I</text><text class="s" x="-17" y="-4" textLength="28">G,V</text><text class="s" x="-17" y="9.5" textLength="42">y,α,2</text></g>
<g id="h22" transform="translate(165,165)"><use href="#o"/><text class="m" x="-25" y="4">I</text><text class="s" x="-17" y="-4" textLength="28">B,V</text><text class="s" x="-17" y="9.5" textLength="42">y,α,2</text></g>
<g id="h23" transform="translate(231,165)"><use href="#d"/><text class="m" x="-25" y="4">I</text><text class="s" x="-17" y="-4" textLength="28">G,V</text><text class="s" x="-17" y="9.5" textLength="42">y,α,2</text></g>
<g id="h24" transform="translate(297,165)"><use href="#o"/><text class="m" x="-25" y="4">I</text><text class="s" x="-17" y="-4" textLength="28">B,V</text><text class="s" x="-17" y="9.5" textLength="42">y,α,2</text></g>
<g id="h30" transform="translate(33,231)"><use href="#q"/><text class="m" x="-25" y="4">I</text><text class="s" x="-17" y="-4" textLength="28">G,V</text><text class="s" x="-17" y="9.5" textLength="42">y,α,2</text></g>
<g id="h31" transform="translate(99,231)"><use href="#r"/><text class="m" x="-25" y="4">I</text><text class="s" x="-17" y="-4" textLength="28">R,V</text><text class="s" x="-17" y="9.5" textLength="42">y,α,2</text></g>
<g id="h32" transform="translate(165,231)"><use href="#qk"/><text class="m" x="-25" y="4">I</text><text class="s" x="-17" y="-4" textLength="28">G,V</text><text class="s" x="-17" y="9.5" textLength="42">y,α,2</text></g>
<g id="h33" transform="translate(231,231)"><use href="#r"/><text class="m" x="-25" y="4">I</text><text class="s" x="-17" y="-4" textLength="28">R,V</text><text class="s" x="-17" y="9.5" textLength="42">y,α,2</text></g>
<g id="h34" transform="translate(297,231)"><use href="#q"/><text class="m" x="-25" y="4">I</text><text class="s" x="-17" y="-4" textLength="28">G,V</text><text class="s" x="-17" y="9.5" textLength="42">y,α,2</text></g>
<g id="h40" transform="translate(33,297)"><use href="#o"/><text class="m" x="-25" y="4">I</text><text class="s" x="-17" y="-4" textLength="28">B,V</text><text class="s" x="-17" y="9.5" textLength="42">y,α,2</text></g>
<g id="h41" transform="translate(99,297)"><use href="#d"/><text class="m" x="-25" y="4">I</text><text class="s" x="-17" y="-4" textLength="28">G,V</text><text class="s" x="-17" y="9.5" textLength="42">y,α,2</text></g>
<g id="h42" transform="translate(165,297)"><use href="#o"/><text class="m" x="-25" y="4">I</text><text class="s" x="-17" y="-4" textLength="28">B,V</text><text class="s" x="-17" y="9.5" textLength="42">y,α,2</text></g>
<g id="h43" transform="translate(231,297)"><use href="#d"/><text class="m" x="-25" y="4">I</text><text class="s" x="-17" y="-4" textLength="28">G,V</text><text class="s" x="-17" y="9.5" textLength="42">y,α,2</text></g>
<g id="h44" transform="translate(297,297)"><use href="#o"/><text class="m" x="-25" y="4">I</text><text class="s" x="-17" y="-4" textLength="28">B,V</text><text class="s" x="-17" y="9.5" textLength="42">y,α,2</text></g>
</g>
<g id="cap-h"><text class="c" x="521" y="1283">(h)</text><text class="ci" x="560" y="1283">I</text><text class="cs" x="576" y="1270.5" textLength="70">CFA,V</text><text class="cs" x="576" y="1291" textLength="46">y,α,2</text></g>

<!-- Panel i -->
<g id="panel-i" transform="translate(835,915)">
<rect width="330" height="330" fill="#4d4d4d" stroke="#000"/>
<g class="hd">
<text x="33" y="-12.5">0</text><text x="99" y="-12.5">1</text><text x="165" y="-12.5">2</text><text x="231" y="-12.5">3</text><text x="297" y="-12.5">4</text>
<text x="-17" y="39">0</text><text x="-17" y="105">1</text><text x="-17" y="171">2</text><text x="-17" y="237">3</text><text x="-17" y="303">4</text>
</g>
<g id="i00" transform="translate(33,33)"><use href="#o"/><text class="m" x="-27" y="4">I</text><text class="s" x="-19" y="-4" textLength="46">G,HV</text><text class="s" x="-19" y="9.5" textLength="42">y,α,2</text></g>
<g id="i01" transform="translate(99,33)"><use href="#d"/><text class="m" x="-27" y="4">I</text><text class="s" x="-19" y="-4" textLength="46">B,HV</text><text class="s" x="-19" y="9.5" textLength="42">y,α,2</text></g>
<g id="i02" transform="translate(165,33)"><use href="#o"/><text class="m" x="-27" y="4">I</text><text class="s" x="-19" y="-4" textLength="46">G,HV</text><text class="s" x="-19" y="9.5" textLength="42">y,α,2</text></g>
<g id="i03" transform="translate(231,33)"><use href="#d"/><text class="m" x="-27" y="4">I</text><text class="s" x="-19" y="-4" textLength="46">B,HV</text><text class="s" x="-19" y="9.5" textLength="42">y,α,2</text></g>
<g id="i04" transform="translate(297,33)"><use href="#o"/><text class="m" x="-27" y="4">I</text><text class="s" x="-19" y="-4" textLength="46">G,HV</text><text class="s" x="-19" y="9.5" textLength="42">y,α,2</text></g>
<g id="i10" transform="translate(33,99)"><use href="#q"/><text class="m" x="-27" y="4">I</text><text class="s" x="-19" y="-4" textLength="46">R,HV</text><text class="s" x="-19" y="9.5" textLength="42">y,α,2</text></g>
<g id="i11" transform="translate(99,99)"><use href="#rk"/><text class="m" x="-27" y="4">I</text><text class="s" x="-19" y="-4" textLength="46">G,HV</text><text class="s" x="-19" y="9.5" textLength="42">y,α,2</text></g>
<g id="i12" transform="translate(165,99)"><use href="#q"/><text class="m" x="-27" y="4">I</text><text class="s" x="-19" y="-4" textLength="46">R,HV</text><text class="s" x="-19" y="9.5" textLength="42">y,α,2</text></g>
<g id="i13" transform="translate(231,99)"><use href="#r"/><text class="m" x="-27" y="4">I</text><text class="s" x="-19" y="-4" textLength="46">G,HV</text><text class="s" x="-19" y="9.5" textLength="42">y,α,2</text></g>
<g id="i14" transform="translate(297,99)"><use href="#q"/><text class="m" x="-27" y="4">I</text><text class="s" x="-19" y="-4" textLength="46">R,HV</text><text class="s" x="-19" y="9.5" textLength="42">y,α,2</text></g>
<g id="i20" transform="translate(33,165)"><use href="#o"/><text class="m" x="-27" y="4">I</text><text class="s" x="-19" y="-4" textLength="46">G,HV</text><text class="s" x="-19" y="9.5" textLength="42">y,α,2</text></g>
<g id="i21" transform="translate(99,165)"><use href="#d"/><text class="m" x="-27" y="4">I</text><text class="s" x="-19" y="-4" textLength="46">B,HV</text><text class="s" x="-19" y="9.5" textLength="42">y,α,2</text></g>
<g id="i22" transform="translate(165,165)"><use href="#o"/><text class="m" x="-27" y="4">I</text><text class="s" x="-19" y="-4" textLength="46">G,HV</text><text class="s" x="-19" y="9.5" textLength="42">y,α,2</text></g>
<g id="i23" transform="translate(231,165)"><use href="#d"/><text class="m" x="-27" y="4">I</text><text class="s" x="-19" y="-4" textLength="46">B,HV</text><text class="s" x="-19" y="9.5" textLength="42">y,α,2</text></g>
<g id="i24" transform="translate(297,165)"><use href="#o"/><text class="m" x="-27" y="4">I</text><text class="s" x="-19" y="-4" textLength="46">G,HV</text><text class="s" x="-19" y="9.5" textLength="42">y,α,2</text></g>
<g id="i30" transform="translate(33,231)"><use href="#q"/><text class="m" x="-27" y="4">I</text><text class="s" x="-19" y="-4" textLength="46">R,HV</text><text class="s" x="-19" y="9.5" textLength="42">y,α,2</text></g>
<g id="i31" transform="translate(99,231)"><use href="#r"/><text class="m" x="-27" y="4">I</text><text class="s" x="-19" y="-4" textLength="46">G,HV</text><text class="s" x="-19" y="9.5" textLength="42">y,α,2</text></g>
<g id="i32" transform="translate(165,231)"><use href="#qk"/><text class="m" x="-27" y="4">I</text><text class="s" x="-19" y="-4" textLength="46">R,HV</text><text class="s" x="-19" y="9.5" textLength="42">y,α,2</text></g>
<g id="i33" transform="translate(231,231)"><use href="#r"/><text class="m" x="-27" y="4">I</text><text class="s" x="-19" y="-4" textLength="46">G,HV</text><text class="s" x="-19" y="9.5" textLength="42">y,α,2</text></g>
<g id="i34" transform="translate(297,231)"><use href="#q"/><text class="m" x="-27" y="4">I</text><text class="s" x="-19" y="-4" textLength="46">R,HV</text><text class="s" x="-19" y="9.5" textLength="42">y,α,2</text></g>
<g id="i40" transform="translate(33,297)"><use href="#o"/><text class="m" x="-27" y="4">I</text><text class="s" x="-19" y="-4" textLength="46">G,HV</text><text class="s" x="-19" y="9.5" textLength="42">y,α,2</text></g>
<g id="i41" transform="translate(99,297)"><use href="#d"/><text class="m" x="-27" y="4">I</text><text class="s" x="-19" y="-4" textLength="46">B,HV</text><text class="s" x="-19" y="9.5" textLength="42">y,α,2</text></g>
<g id="i42" transform="translate(165,297)"><use href="#o"/><text class="m" x="-27" y="4">I</text><text class="s" x="-19" y="-4" textLength="46">G,HV</text><text class="s" x="-19" y="9.5" textLength="42">y,α,2</text></g>
<g id="i43" transform="translate(231,297)"><use href="#d"/><text class="m" x="-27" y="4">I</text><text class="s" x="-19" y="-4" textLength="46">B,HV</text><text class="s" x="-19" y="9.5" textLength="42">y,α,2</text></g>
<g id="i44" transform="translate(297,297)"><use href="#o"/><text class="m" x="-27" y="4">I</text><text class="s" x="-19" y="-4" textLength="46">G,HV</text><text class="s" x="-19" y="9.5" textLength="42">y,α,2</text></g>
</g>
<g id="cap-i"><text class="c" x="916" y="1283">(i)</text><text class="ci" x="955" y="1283">I</text><text class="cs" x="971" y="1270.5" textLength="86">CFA,HV</text><text class="cs" x="971" y="1291" textLength="46">y,α,2</text></g>
</svg>
